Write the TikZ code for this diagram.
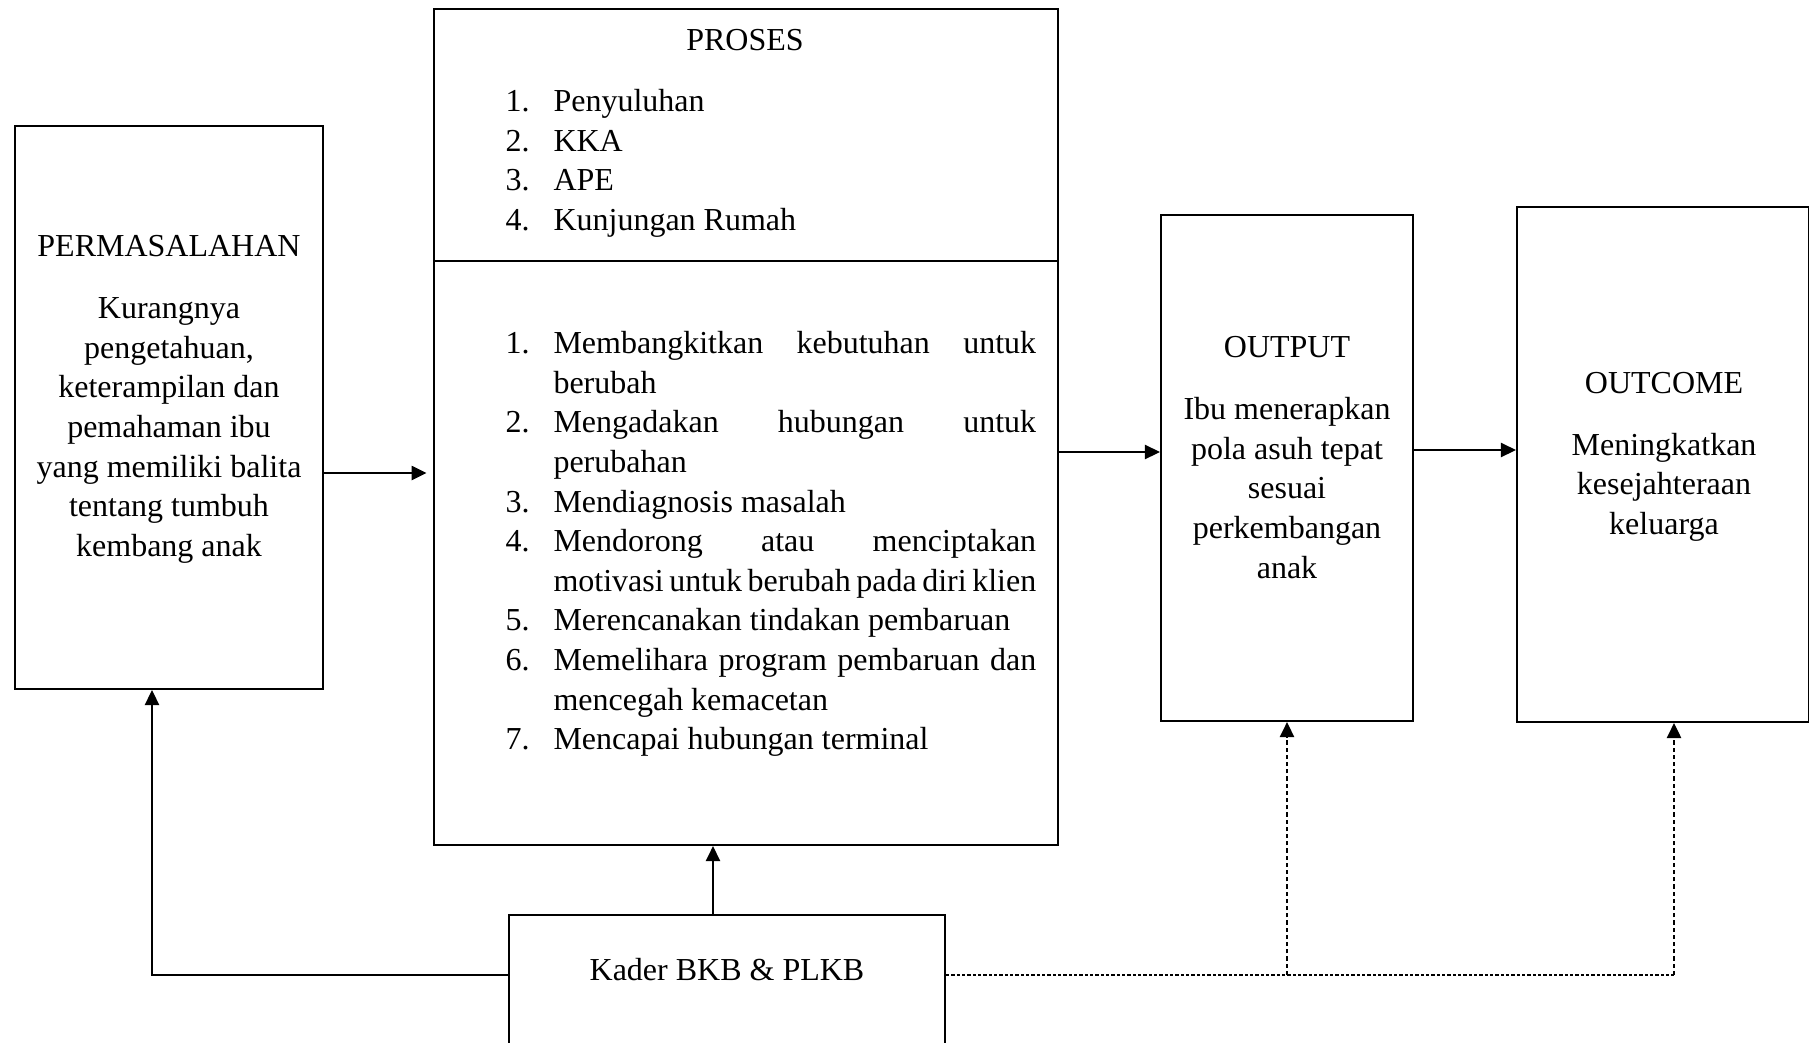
\documentclass[tikz,border=0pt]{standalone}
\usepackage{fontspec}
\setmainfont{Liberation Serif}
\usetikzlibrary{positioning,arrows.meta}

\newcommand{\itm}[2]{\makebox[18pt][l]{#1}#2}
\newcommand{\jline}[1]{\makebox[181pt][s]{#1}}

\begin{document}
\begin{tikzpicture}[x=0.375pt, y=-0.375pt,
box/.style ={ rectangle , draw , line width=0.85pt , inner sep=0pt },
txt/.style ={ align=center , inner sep=0pt , font=\fontsize{12}{14.85}\selectfont },
lst/.style ={ align=left , inner sep=0pt , font=\fontsize{12}{14.85}\selectfont },
arr/.style ={ -{Triangle[length=5.6pt,width=5.4pt]} , line width=0.45pt },
dashline/.style ={ line width=0.45pt , dash pattern=on 1.2pt off 0.8pt },
dasharr/.style ={ -{Triangle[length=5.6pt,width=5.4pt]} , line width=0.45pt , dash pattern=on 1.6pt off 1.1pt }]
\useasboundingbox (0,0) rectangle (1809,1042);
\clip (0,0) rectangle (1809,1042);

% boxes
\node[box, minimum width=115.5pt, minimum height=211.1pt] (perm) at (169,407.5) {};
\node[box, minimum width=234pt, minimum height=313.5pt] (proses) at (746,427) {};
\node[box, minimum width=94.5pt, minimum height=189.75pt] (output) at (1287,468) {};
\node[box, minimum width=109.7pt, minimum height=193.1pt] (outcome) at (1663.25,464.5) {};
\node[box, minimum width=163.5pt, minimum height=73pt] (kader) at (727,1012) {};
\coordinate (div) at (0,261);
\draw[line width=0.85pt] (proses.west |- div) -- (proses.east |- div);

% texts
\node[txt, anchor=north] (permtxt) at (169,235) {PERMASALAHAN\\[8.4pt]Kurangnya\\pengetahuan,\\keterampilan dan\\pemahaman ibu\\yang memiliki balita\\tentang tumbuh\\kembang anak};
\node[txt, anchor=north] (prostitle) at (745,29) {PROSES};
\node[lst, anchor=north west] (metode) at (505,89) {\itm{1.}{Penyuluhan}\\\itm{2.}{KKA}\\\itm{3.}{APE}\\\itm{4.}{Kunjungan Rumah}};
\node[lst, anchor=north west] (tahap) at (505,331) {\itm{1.}{\jline{Membangkitkan kebutuhan untuk}}\\
\itm{}{berubah}\\
\itm{2.}{\jline{Mengadakan hubungan untuk}}\\
\itm{}{perubahan}\\
\itm{3.}{Mendiagnosis masalah}\\
\itm{4.}{\jline{Mendorong atau menciptakan}}\\
\itm{}{\jline{motivasi untuk berubah pada diri klien}}\\
\itm{5.}{Merencanakan tindakan pembaruan}\\
\itm{6.}{\jline{Memelihara program pembaruan dan}}\\
\itm{}{mencegah kemacetan}\\
\itm{7.}{Mencapai hubungan terminal}};
\node[txt, anchor=north] (outtxt) at (1287,336) {OUTPUT\\[8.4pt]Ibu menerapkan\\pola asuh tepat\\sesuai\\perkembangan\\anak};
\node[txt, anchor=north] (outctxt) at (1664,371.5) {OUTCOME\\[8.4pt]Meningkatkan\\kesejahteraan\\keluarga};
\node[txt, anchor=north] (kadertxt) at (727,958) {Kader BKB \& PLKB};

% connectors
\coordinate (pa) at (0,473);
\coordinate (pb) at (0,452);
\coordinate (pc) at (0,450);
\coordinate (ku) at (713,0);
\coordinate (kl) at (152,975);
\coordinate (kr) at (1674,975);
\draw[arr, shorten >=2.4pt] (perm.east |- pa) -- (proses.west |- pa);
\draw[arr] (proses.east |- pb) -- (output.west |- pb);
\draw[arr] (output.east |- pc) -- (outcome.west |- pc);
\draw[arr] (kader.north -| ku) -- (proses.south -| ku);
\draw[arr] (kader.west |- kl) -| (perm.south -| kl);
\draw[dashline] (kader.east |- kl) -- (kr);
\draw[dasharr] (output.south |- kl) -- (output.south);
\draw[dasharr] (kr) -- (outcome.south -| kr);
\end{tikzpicture}
\end{document}
